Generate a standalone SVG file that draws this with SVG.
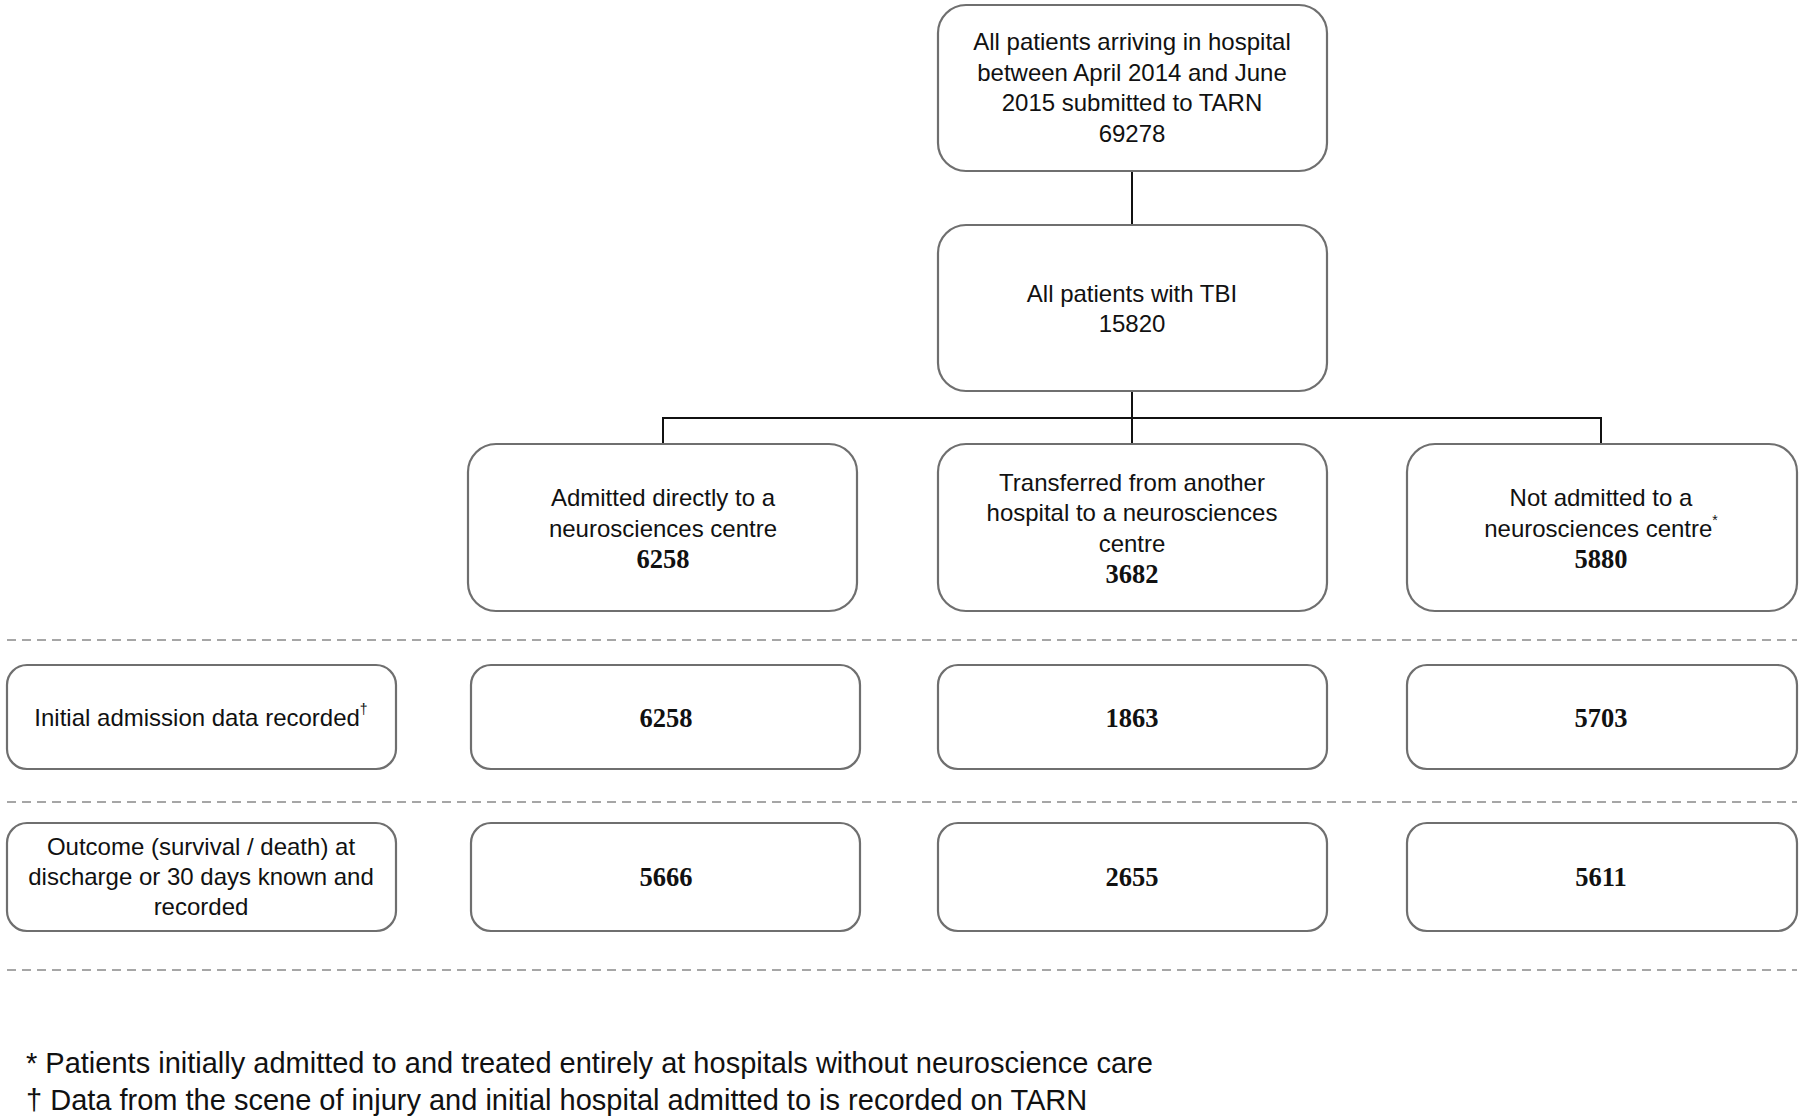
<svg xmlns="http://www.w3.org/2000/svg" width="1800" height="1120" viewBox="0 0 1800 1120">
<style>
.box{fill:#fff;stroke:#6f6f6f;stroke-width:2.2}
.t{font-family:"Liberation Sans",Arial,sans-serif;font-size:24px;fill:#111;text-anchor:middle}
.n{font-family:"Liberation Serif","Times New Roman",serif;font-size:26.5px;font-weight:bold;fill:#111;text-anchor:middle}
.fn{font-family:"Liberation Sans",Arial,sans-serif;font-size:29px;fill:#111}
.sup{font-size:14px}
.con{stroke:#111;stroke-width:2;fill:none}
.dash{stroke:#a6a6a6;stroke-width:2;stroke-dasharray:9 6;fill:none}
</style>
<rect width="1800" height="1120" fill="#fff"/>
<g id="connectors">
<line class="con" x1="1132" y1="171" x2="1132" y2="225"/>
<line class="con" x1="1132" y1="391" x2="1132" y2="444"/>
<polyline class="con" points="663,444 663,418 1601,418 1601,444"/>
</g>
<g id="separators">
<line class="dash" x1="7" y1="640" x2="1797" y2="640"/>
<line class="dash" x1="7" y1="802" x2="1797" y2="802"/>
<line class="dash" x1="7" y1="970" x2="1797" y2="970"/>
</g>
<g id="n-all">
<rect class="box" x="938" y="5" width="389" height="166" rx="28"/>
<text class="t" x="1132" y="50">All patients arriving in hospital</text>
<text class="t" x="1132" y="81">between April 2014 and June</text>
<text class="t" x="1132" y="111">2015 submitted to TARN</text>
<text class="t" x="1132" y="142">69278</text>
</g>
<g id="n-tbi">
<rect class="box" x="938" y="225" width="389" height="166" rx="28"/>
<text class="t" x="1132" y="302">All patients with TBI</text>
<text class="t" x="1132" y="332">15820</text>
</g>
<g id="n-direct">
<rect class="box" x="468" y="444" width="389" height="167" rx="28"/>
<text class="t" x="663" y="506">Admitted directly to a</text>
<text class="t" x="663" y="537">neurosciences centre</text>
<text class="n" x="663" y="568">6258</text>
</g>
<g id="n-transfer">
<rect class="box" x="938" y="444" width="389" height="167" rx="28"/>
<text class="t" x="1132" y="491">Transferred from another</text>
<text class="t" x="1132" y="521">hospital to a neurosciences</text>
<text class="t" x="1132" y="552">centre</text>
<text class="n" x="1132" y="583">3682</text>
</g>
<g id="n-notadmitted">
<rect class="box" x="1407" y="444" width="390" height="167" rx="28"/>
<text class="t" x="1601" y="506">Not admitted to a</text>
<text class="t" x="1601" y="537">neurosciences centre<tspan class="sup" dy="-12">*</tspan></text>
<text class="n" x="1601" y="568">5880</text>
</g>
<g id="n-initial-label">
<rect class="box" x="7" y="665" width="389" height="104" rx="20"/>
<text class="t" x="201" y="726">Initial admission data recorded<tspan class="sup" dy="-12">†</tspan></text>
</g>
<g id="n-initial-direct">
<rect class="box" x="471" y="665" width="389" height="104" rx="20"/>
<text class="n" x="666" y="727">6258</text>
</g>
<g id="n-initial-transfer">
<rect class="box" x="938" y="665" width="389" height="104" rx="20"/>
<text class="n" x="1132" y="727">1863</text>
</g>
<g id="n-initial-not">
<rect class="box" x="1407" y="665" width="390" height="104" rx="20"/>
<text class="n" x="1601" y="727">5703</text>
</g>
<g id="n-outcome-label">
<rect class="box" x="7" y="823" width="389" height="108" rx="20"/>
<text class="t" x="201" y="855">Outcome (survival / death) at</text>
<text class="t" x="201" y="885">discharge or 30 days known and</text>
<text class="t" x="201" y="915">recorded</text>
</g>
<g id="n-outcome-direct">
<rect class="box" x="471" y="823" width="389" height="108" rx="20"/>
<text class="n" x="666" y="886">5666</text>
</g>
<g id="n-outcome-transfer">
<rect class="box" x="938" y="823" width="389" height="108" rx="20"/>
<text class="n" x="1132" y="886">2655</text>
</g>
<g id="n-outcome-not">
<rect class="box" x="1407" y="823" width="390" height="108" rx="20"/>
<text class="n" x="1601" y="886">5611</text>
</g>
<g id="footnotes">
<text class="fn" x="26" y="1073">* Patients initially admitted to and treated entirely at hospitals without neuroscience care</text>
<text class="fn" x="26" y="1110">† Data from the scene of injury and initial hospital admitted to is recorded on TARN</text>
</g>
</svg>
